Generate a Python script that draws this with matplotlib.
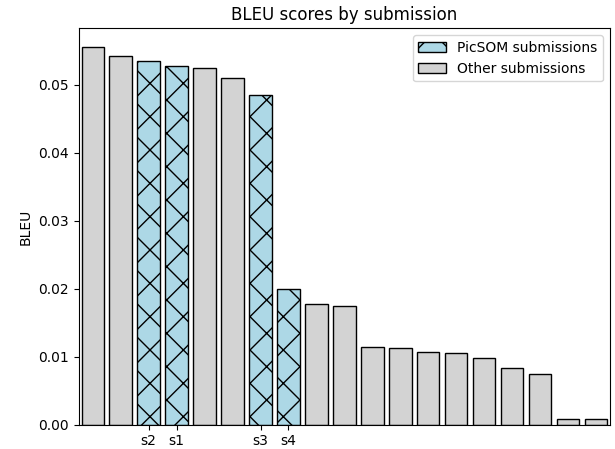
import numpy as np
import matplotlib
matplotlib.use("Agg")
import matplotlib.pyplot as plt
from matplotlib.patches import Patch

# BLEU scores, sorted, PicSOM runs marked
scores = [0.0555, 0.0542, 0.0535, 0.0527, 0.0525, 0.0510, 0.0485,
          0.0200, 0.0177, 0.0175, 0.0115, 0.0113, 0.0107, 0.0105,
          0.0098, 0.0084, 0.0075, 0.0008, 0.0008]
picsom = ['', '', 's2', 's1', '', '', 's3', 's4', '', '', '', '', '', '',
          '', '', '', '', '']

x = np.arange(len(scores))

fig, ax = plt.subplots(figsize=(6.15, 4.49), dpi=100)
for i, (v, lab) in enumerate(zip(scores, picsom)):
    if lab:
        ax.bar(x[i], v, color='lightblue', edgecolor='black', hatch='x')
    else:
        ax.bar(x[i], v, color='lightgray', edgecolor='black')

ticks = [i for i, lab in enumerate(picsom) if lab]
ax.set_xticks(ticks)
ax.set_xticklabels([picsom[i] for i in ticks])
ax.set_xlim(-0.5, len(scores) - 0.5)
ax.set_ylabel('BLEU')
ax.set_title('BLEU scores by submission')

handles = [Patch(facecolor='lightblue', edgecolor='black', hatch='x', label='PicSOM submissions'),
           Patch(facecolor='lightgray', edgecolor='black', label='Other submissions')]
ax.legend(handles=handles, loc='upper right')

plt.subplots_adjust(left=0.128, right=0.992, top=0.937, bottom=0.054)
plt.savefig('out.png')
